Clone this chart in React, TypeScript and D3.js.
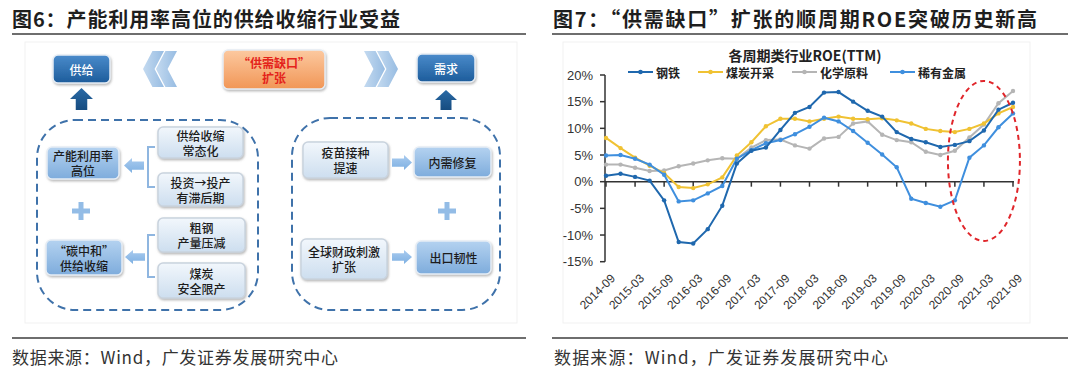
import React from 'react';
import * as d3 from 'd3';

const dates = [
  '2014-09','2014-12','2015-03','2015-06','2015-09','2015-12','2016-03','2016-06','2016-09','2016-12',
  '2017-03','2017-06','2017-09','2017-12','2018-03','2018-06','2018-09','2018-12','2019-03','2019-06',
  '2019-09','2019-12','2020-03','2020-06','2020-09','2020-12','2021-03','2021-06','2021-09',
];
const tickLabels = ['2014-09','2015-03','2015-09','2016-03','2016-09','2017-03','2017-09','2018-03','2018-09','2019-03','2019-09','2020-03','2020-09','2021-03','2021-09'];
const steel = [1.1,1.5,0.9,0.2,-3.5,-11.3,-11.6,-8.9,-4.5,3.4,5.8,6.4,9.7,12.9,14.0,16.7,16.8,15.0,13.3,12.2,9.3,8.0,7.4,6.5,6.9,7.6,9.6,13.5,14.8];
const coal = [8.2,6.3,4.5,3.0,1.6,-1.0,-1.2,-0.5,0.8,4.9,7.4,10.4,11.8,11.8,11.3,11.8,12.2,11.8,11.7,11.9,11.5,10.9,9.9,9.5,9.3,9.9,10.9,12.8,14.0];
const chem = [3.2,3.2,2.6,2.0,2.1,2.9,3.4,4.0,4.4,4.3,6.4,7.8,7.9,6.8,6.2,8.1,8.4,10.9,11.3,8.8,7.8,7.4,5.6,5.0,5.8,8.3,10.7,14.7,17.0];
const rare = [4.9,5.0,4.3,3.2,1.3,-3.7,-3.5,-2.2,-0.8,4.3,5.9,7.2,7.8,8.9,10.3,12.0,11.3,9.5,7.3,5.1,2.7,-3.2,-4.0,-4.7,-3.5,4.5,6.8,10.2,12.8];
const yTicks = [-15,-10,-5,0,5,10,15,20];
const seriesNames = ['钢铁','煤炭开采','化学原料','稀有金属'];
const seriesColors = ['#1f68ae','#f0c233','#b5b5b5','#3f8fde'];

const CJK = '"Noto Sans CJK SC", sans-serif';
const LAT = '"Liberation Sans", Arial, sans-serif';

type BoxKind = 'dark' | 'mid' | 'light' | 'orange';
function Box({ x, y, w, h, kind, lines }: { x: number; y: number; w: number; h: number; kind: BoxKind; lines: string[] }) {
  const fill = `url(#g-${kind})`;
  const color = kind === 'dark' ? '#ffffff' : kind === 'orange' ? '#e4231b' : '#1c1c1c';
  const stroke = kind === 'light' ? '#c9d3de' : '#e6edf5';
  const lh = 15;
  const cy = y + h / 2;
  return (
    <g>
      <rect x={x} y={y} width={w} height={h} rx={5} fill={fill} stroke={stroke} strokeWidth={1.5} filter="url(#shadow)" />
      {lines.map((t, i) => (
        <text key={i} x={x + w / 2} y={cy + (i - (lines.length - 1) / 2) * lh} textAnchor="middle" dominantBaseline="central"
          fontFamily={CJK} fontSize={12} fontWeight={kind === 'orange' ? 700 : 500} fill={color}>{t}</text>
      ))}
    </g>
  );
}

function chevron(x0: number, y0: number, w: number, h: number, dir: 1 | -1) {
  const t = w * 0.55;
  const ym = y0 + h / 2;
  if (dir === -1) {
    return `M${x0 + w - t},${y0} L${x0 + w},${y0} L${x0 + t},${ym} L${x0 + w},${y0 + h} L${x0 + w - t},${y0 + h} L${x0},${ym} Z`;
  }
  return `M${x0},${y0} L${x0 + t},${y0} L${x0 + w},${ym} L${x0 + t},${y0 + h} L${x0},${y0 + h} L${x0 + w - t},${ym} Z`;
}

function blockArrow(x0: number, y0: number, w: number, h: number, dir: 1 | -1) {
  const head = 8;
  const sh = h * 0.55;
  const ym = y0 + h / 2;
  if (dir === -1) {
    return `M${x0},${ym} L${x0 + head},${y0} L${x0 + head},${ym - sh / 2} L${x0 + w},${ym - sh / 2} L${x0 + w},${ym + sh / 2} L${x0 + head},${ym + sh / 2} L${x0 + head},${y0 + h} Z`;
  }
  return `M${x0 + w},${ym} L${x0 + w - head},${y0} L${x0 + w - head},${ym - sh / 2} L${x0},${ym - sh / 2} L${x0},${ym + sh / 2} L${x0 + w - head},${ym + sh / 2} L${x0 + w - head},${y0 + h} Z`;
}

function upArrow(x0: number, y0: number, w: number, h: number) {
  const head = h * 0.5;
  const sw = w * 0.5;
  const xm = x0 + w / 2;
  return `M${xm},${y0} L${x0 + w},${y0 + head} L${xm + sw / 2},${y0 + head} L${xm + sw / 2},${y0 + h} L${xm - sw / 2},${y0 + h} L${xm - sw / 2},${y0 + head} L${x0},${y0 + head} Z`;
}

function Plus({ cx, cy }: { cx: number; cy: number }) {
  return (
    <g stroke="#93bce6" strokeWidth={5}>
      <line x1={cx - 9} y1={cy} x2={cx + 9} y2={cy} />
      <line x1={cx} y1={cy - 9} x2={cx} y2={cy + 9} />
    </g>
  );
}

function Bracket({ x, y1, y2 }: { x: number; y1: number; y2: number }) {
  return <path d={`M${x + 7},${y1} H${x} V${y2} H${x + 7}`} fill="none" stroke="#8fb6e0" strokeWidth={2} />;
}

export default function App() {
  const W = 1080, H = 380;
  const x = d3.scalePoint<string>().domain(dates).range([606, 1013]);
  const y = d3.scaleLinear().domain([-15, 20]).range([261.7, 75]);
  const line = d3.line<number>().x((_, i) => x(dates[i]) as number).y(d => y(d));
  const series = [
    { name: seriesNames[2], values: chem, color: seriesColors[2] },
    { name: seriesNames[1], values: coal, color: seriesColors[1] },
    { name: seriesNames[3], values: rare, color: seriesColors[3] },
    { name: seriesNames[0], values: steel, color: seriesColors[0] },
  ];
  const legendX = [628, 698, 792, 890];
  const x0 = 605;

  return (
    <svg width={W} height={H} style={{ position: 'absolute', left: 0, top: 0, background: '#fff' }}>
      <defs>
        <linearGradient id="g-dark" x1="0" y1="0" x2="0" y2="1">
          <stop offset="0" stopColor="#4a8bcb" /><stop offset="1" stopColor="#1d5c9b" />
        </linearGradient>
        <linearGradient id="g-mid" x1="0" y1="0" x2="0" y2="1">
          <stop offset="0" stopColor="#b4d2f0" /><stop offset="1" stopColor="#7eacdc" />
        </linearGradient>
        <linearGradient id="g-light" x1="0" y1="0" x2="0" y2="1">
          <stop offset="0" stopColor="#f2f7fc" /><stop offset="1" stopColor="#cddeef" />
        </linearGradient>
        <linearGradient id="g-orange" x1="0" y1="0" x2="0" y2="1">
          <stop offset="0" stopColor="#fcc9a0" /><stop offset="1" stopColor="#f19656" />
        </linearGradient>
        <linearGradient id="g-chev" x1="0" y1="0" x2="1" y2="0">
          <stop offset="0" stopColor="#c4daf0" /><stop offset="1" stopColor="#97bce2" />
        </linearGradient>
        <linearGradient id="g-arrow" x1="0" y1="0" x2="0" y2="1">
          <stop offset="0" stopColor="#a9cbef" /><stop offset="1" stopColor="#7eb0e2" />
        </linearGradient>
        <linearGradient id="g-up" x1="0" y1="0" x2="0" y2="1">
          <stop offset="0" stopColor="#2a6aa6" /><stop offset="1" stopColor="#164c80" />
        </linearGradient>
        <filter id="shadow" x="-20%" y="-20%" width="140%" height="150%">
          <feDropShadow dx="0.8" dy="1.5" stdDeviation="1" floodColor="#7a7a7a" floodOpacity="0.55" />
        </filter>
      </defs>

      {/* ===== Left panel ===== */}
      <text x={12} y={18} dominantBaseline="central" fontFamily={CJK} fontSize={20} fontWeight={700} fill="#1e1e1e"
        textLength={388} lengthAdjust="spacing">图6：产能利用率高位的供给收缩行业受益</text>
      <line x1={12} y1={34} x2={526} y2={34} stroke="#6e6e6e" strokeWidth={2} />
      <rect x={25} y={42} width={492} height={281} fill="none" stroke="#f1f1f1" />

      <Box x={53} y={55} w={57} h={28} kind="dark" lines={['供给']} />
      <Box x={417} y={54} w={58} h={28} kind="dark" lines={['需求']} />
      <Box x={223} y={50} w={102} h={39} kind="orange" lines={['“供需缺口”', '扩张']} />
      <path d={chevron(143, 51, 21, 36, -1)} fill="url(#g-chev)" />
      <path d={chevron(156, 51, 21, 36, -1)} fill="url(#g-chev)" />
      <path d={chevron(364, 51, 21, 36, 1)} fill="url(#g-chev)" />
      <path d={chevron(377, 51, 21, 36, 1)} fill="url(#g-chev)" />
      <path d={upArrow(70, 88, 23, 22)} fill="url(#g-up)" />
      <path d={upArrow(435, 90, 22, 20)} fill="url(#g-up)" />

      <rect x={37} y={120} width={221} height={190} rx={38} fill="none" stroke="#3f72aa" strokeWidth={2} strokeDasharray="8 5" />
      <rect x={292} y={118} width={208} height={192} rx={38} fill="none" stroke="#3f72aa" strokeWidth={2} strokeDasharray="8 5" />

      <Box x={47} y={147} w={72} h={32} kind="mid" lines={['产能利用率', '高位']} />
      <path d={blockArrow(124, 158, 20, 15, -1)} fill="url(#g-arrow)" />
      <Bracket x={148} y1={147} y2={187} />
      <Box x={158} y={127} w={85} h={31} kind="light" lines={['供给收缩', '常态化']} />
      <Box x={158} y={173} w={85} h={33} kind="light" lines={['投资→投产', '有滞后期']} />
      <Plus cx={81} cy={211} />
      <Box x={46} y={240} w={76} h={35} kind="mid" lines={['“碳中和”', '供给收缩']} />
      <path d={blockArrow(125, 250, 20, 14, -1)} fill="url(#g-arrow)" />
      <Bracket x={148} y1={235} y2={277} />
      <Box x={158} y={218} w={87} h={34} kind="light" lines={['粗钢', '产量压减']} />
      <Box x={158} y={263} w={87} h={35} kind="light" lines={['煤炭', '安全限产']} />

      <Box x={303} y={142} w={85} h={36} kind="light" lines={['疫苗接种', '提速']} />
      <path d={blockArrow(392, 155, 20, 15, 1)} fill="url(#g-arrow)" />
      <Box x={414} y={147} w={77} h={30} kind="mid" lines={['内需修复']} />
      <Plus cx={447} cy={211} />
      <Box x={301} y={239} w={86} h={40} kind="light" lines={['全球财政刺激', '扩张']} />
      <path d={blockArrow(392, 250, 20, 14, 1)} fill="url(#g-arrow)" />
      <Box x={416} y={241} w={75} h={33} kind="mid" lines={['出口韧性']} />

      <line x1={12} y1={338} x2={526} y2={338} stroke="#6e6e6e" strokeWidth={2} />
      <text x={12} y={356} dominantBaseline="central" fontFamily={CJK} fontSize={17} fill="#333" textLength={326} lengthAdjust="spacing">数据来源：Wind，广发证券发展研究中心</text>

      {/* ===== Right panel ===== */}
      <text x={553} y={18} dominantBaseline="central" fontFamily={CJK} fontSize={20} fontWeight={700} fill="#1e1e1e"
        textLength={484} lengthAdjust="spacing">图7：“供需缺口”扩张的顺周期ROE突破历史新高</text>
      <line x1={552} y1={34} x2={1068} y2={34} stroke="#6e6e6e" strokeWidth={2} />
      <rect x={563} y={42} width={467} height={281} fill="none" stroke="#f1f1f1" />

      <text x={805} y={55} textAnchor="middle" dominantBaseline="central" fontFamily={CJK} fontSize={14} fontWeight={700} fill="#222">各周期类行业ROE(TTM)</text>
      {seriesNames.map((n, i) => (
        <g key={n}>
          <line x1={legendX[i]} y1={72} x2={legendX[i] + 25} y2={72} stroke={seriesColors[i]} strokeWidth={2} />
          <circle cx={legendX[i] + 12.5} cy={72} r={2.3} fill={seriesColors[i]} />
          <text x={legendX[i] + 28} y={72} dominantBaseline="central" fontFamily={CJK} fontSize={12} fontWeight={700} fill="#222">{n}</text>
        </g>
      ))}

      {/* y axis */}
      <line x1={x0} y1={y(20)} x2={x0} y2={y(-15)} stroke="#333" strokeWidth={1.5} />
      {yTicks.map(t => (
        <g key={t}>
          <line x1={x0 - 5} y1={y(t)} x2={x0} y2={y(t)} stroke="#333" strokeWidth={1.5} />
          <text x={593} y={y(t)} textAnchor="end" dominantBaseline="central" fontFamily={LAT} fontSize={13} fill="#333">{t}%</text>
        </g>
      ))}
      {/* x axis */}
      <line x1={x0} y1={y(0)} x2={1014} y2={y(0)} stroke="#333" strokeWidth={1.5} />
      {tickLabels.map(l => {
        const px = x(l) as number;
        return (
          <g key={l}>
            <line x1={px} y1={y(0)} x2={px} y2={y(0) + 5} stroke="#333" strokeWidth={1.5} />
            <text transform={`translate(${px + 7},${276}) rotate(-45)`} textAnchor="end" dy="0.35em" fontFamily={LAT} fontSize={12} fill="#333">{l}</text>
          </g>
        );
      })}

      {series.map(s => (
        <g key={s.name}>
          <path d={line(s.values) as string} fill="none" stroke={s.color} strokeWidth={2} />
          {s.values.map((v, i) => (
            <circle key={i} cx={x(dates[i]) as number} cy={y(v)} r={2.2} fill={s.color} />
          ))}
        </g>
      ))}

      <ellipse cx={x('2021-03') as number} cy={y(3.9)} rx={36} ry={80} fill="none" stroke="#e0262b" strokeWidth={2} strokeDasharray="5 4" />

      <line x1={552} y1={338} x2={1068} y2={338} stroke="#6e6e6e" strokeWidth={2} />
      <text x={554} y={356} dominantBaseline="central" fontFamily={CJK} fontSize={17} fill="#333" textLength={334} lengthAdjust="spacing">数据来源：Wind，广发证券发展研究中心</text>
    </svg>
  );
}
